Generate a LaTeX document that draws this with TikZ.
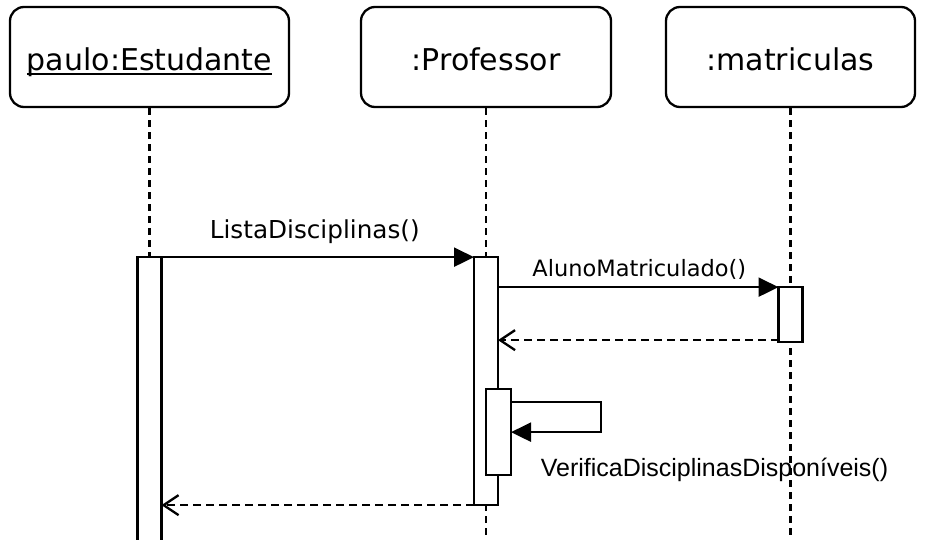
\documentclass[tikz,border=0pt]{standalone}
\usepackage{fontspec}
\setmainfont{DejaVu Sans}
\newfontfamily\arialfont{Liberation Sans}
\usepackage{tikz}
\usetikzlibrary{calc}
\usetikzlibrary{positioning}
\usetikzlibrary{arrows.meta}
\tikzstyle{objbox} = [draw, line width=2.3pt, rounded corners=14pt, minimum height=100pt, inner sep=0pt, text height=28pt, text depth=0pt, font=\fontsize{30}{36}\selectfont]
\tikzstyle{actbox} = [draw, line width=2.3pt, fill=white, minimum width=24pt, inner sep=0pt, outer sep=0pt, anchor=north]
\tikzstyle{lifeline} = [line width=2.3pt, dash pattern=on 7pt off 5pt]
\tikzstyle{callmsg} = [line width=2.3pt, -{Triangle[length=20pt,width=19pt]}]
\tikzstyle{retmsg} = [line width=2.3pt, dash pattern=on 8pt off 5pt, -{Straight Barb[length=15pt,width=20pt]}]
\tikzstyle{msgtext} = [anchor=base, inner sep=0pt, font=\fontsize{24.7}{30}\selectfont]
\newcommand{\objname}[1]{\setbox0\hbox{#1}\rlap{\smash{\rule[-4.5pt]{\wd0}{2pt}}}\box0}

\begin{document}
\begin{tikzpicture}[x=1pt, y=-1pt]
    \useasboundingbox (0,0) rectangle (928,540);

    \node[objbox, minimum width=279pt] (stud) at (149.5,57) {\objname{paulo:Estudante}};
    \node[objbox, minimum width=250pt] (prof) at (486,57) {:Professor};
    \node[objbox, minimum width=249pt] (matr) at (790.5,57) {:matriculas};

    \coordinate (stud_end) at (149.5,545);
    \coordinate (prof_end) at (486,545);
    \coordinate (matr_end) at (790.5,545);
    \draw[lifeline] (stud) -- (stud_end);
    \draw[lifeline] (prof) -- (prof_end);
    \draw[lifeline] (matr) -- (matr_end);

    \node[actbox, minimum height=295pt] (act_stud) at ($(stud.south)+(0,149)$) {};
    \node[actbox, minimum height=248pt] (act_prof) at ($(prof.south)+(0,149)$) {};
    \node[actbox, minimum height=55pt] (act_matr) at ($(matr.south)+(0,179)$) {};
    \node[actbox, minimum height=86pt, minimum width=25pt] (act_self) at ($(act_prof.north)+(12.5,132)$) {};

    \draw[callmsg] (act_stud.north east) -- (act_prof.north west);
    \node[msgtext] (lista_lbl) at ($(act_stud.north east)!0.5!(act_prof.north west)+(-3,-19)$) {ListaDisciplinas()};

    \draw[callmsg] (act_prof.east |- act_matr.north) -- (act_matr.north west);
    \node[msgtext, font=\fontsize{22.5}{27}\selectfont] (aluno_lbl) at ($(act_prof.east |- act_matr.north)!0.5!(act_matr.north west)+(1,-11)$) {AlunoMatriculado()};

    \coordinate (ret_start) at ($(act_matr.south west)+(0,-2)$);
    \draw[retmsg] (ret_start) -- (act_prof.east |- ret_start);

    \coordinate (self_out) at ($(act_self.north east)+(0,13)$);
    \coordinate (self_back) at ($(act_self.north east)+(0,43)$);
    \draw[callmsg] (self_out) -- ++(90,0) |- (self_back);
    \node[msgtext, font=\arialfont\fontsize{25}{30}\selectfont] (verifica_lbl) at ($(act_self.north east)+(203.5,87)$) {VerificaDisciplinasDisponíveis()};

    \draw[retmsg] (act_prof.south west) -- (act_stud.east |- act_prof.south);
\end{tikzpicture}
\end{document}
